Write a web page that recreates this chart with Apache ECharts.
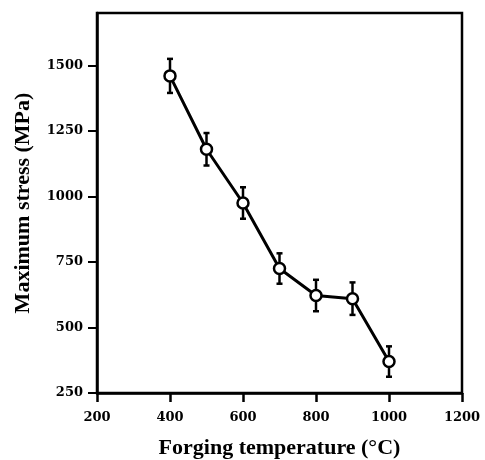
<!DOCTYPE html>
<html>
<head>
<meta charset="utf-8">
<script src="https://cdn.jsdelivr.net/npm/echarts@6/dist/echarts.min.js"></script>
<style>html,body{margin:0;padding:0;background:#fff}#c{width:485px;height:460px}</style>
</head>
<body>
<div id="c"></div>
<script>
const temperatures = [400, 500, 600, 700, 800, 900, 1000];
const maxStress = [1460, 1180, 975, 725, 622, 610, 370];
const stressError = [65, 62, 60, 58, 60, 62, 58];
const xTicks = [200, 400, 600, 800, 1000, 1200];
const yTicks = [250, 500, 750, 1000, 1250, 1500];

const font = 'Liberation Serif';
const tickFont = 'DejaVu Serif';
const chart = echarts.init(document.getElementById('c'));
const lineData = temperatures.map((t, i) => [t, maxStress[i]]);
const errData = temperatures.map((t, i) => [t, maxStress[i] - stressError[i], maxStress[i] + stressError[i]]);

chart.setOption({
  animation: false,
  grid: { left: 97, right: 23, top: 13, bottom: 67, outerBoundsMode: 'none', containLabel: false,
    show: true, borderColor: '#000', borderWidth: 2.5, backgroundColor: 'transparent' },
  xAxis: {
    type: 'value', min: 200, max: 1200, interval: 200,
    name: 'Forging temperature (°C)', nameLocation: 'middle', nameGap: 44,
    nameTextStyle: { fontFamily: font, fontWeight: 'bold', fontSize: 22, color: '#000' },
    axisLine: { lineStyle: { color: '#000', width: 2.5 } },
    axisTick: { show: true, inside: false, length: 9, lineStyle: { color: '#000', width: 2.5 } },
    axisLabel: { fontFamily: tickFont, fontWeight: 'bold', fontSize: 13, color: '#000', margin: 18,
      formatter: v => xTicks.includes(v) ? String(v) : '' },
    splitLine: { show: false }
  },
  yAxis: {
    type: 'value', min: 250, max: 1700, interval: 250,
    name: 'Maximum stress (MPa)', nameLocation: 'middle', nameGap: 63,
    nameTextStyle: { fontFamily: font, fontWeight: 'bold', fontSize: 22, color: '#000' },
    axisLine: { lineStyle: { color: '#000', width: 2.5 } },
    axisTick: { show: true, inside: false, length: 9, lineStyle: { color: '#000', width: 2 } },
    axisLabel: { fontFamily: tickFont, fontWeight: 'bold', fontSize: 13, color: '#000', margin: 14, showMaxLabel: false,
      formatter: v => yTicks.includes(v) ? String(v) : '' },
    splitLine: { show: false }
  },
  series: [
    {
      type: 'custom',
      z: 1,
      data: errData,
      renderItem: function (params, api) {
        const x = api.value(0);
        const lo = api.coord([x, api.value(1)]);
        const hi = api.coord([x, api.value(2)]);
        const cap = 3;
        const style = { stroke: '#000', lineWidth: 2.5 };
        return {
          type: 'group',
          children: [
            { type: 'line', shape: { x1: lo[0], y1: lo[1], x2: hi[0], y2: hi[1] }, style: style },
            { type: 'line', shape: { x1: lo[0] - cap, y1: lo[1], x2: lo[0] + cap, y2: lo[1] }, style: style },
            { type: 'line', shape: { x1: hi[0] - cap, y1: hi[1], x2: hi[0] + cap, y2: hi[1] }, style: style }
          ]
        };
      }
    },
    {
      type: 'line',
      z: 3,
      data: lineData,
      symbol: 'circle',
      symbolSize: 11,
      lineStyle: { color: '#000', width: 3 },
      itemStyle: { color: '#fff', borderColor: '#000', borderWidth: 2.5 }
    }
  ]
});
</script>
</body>
</html>
